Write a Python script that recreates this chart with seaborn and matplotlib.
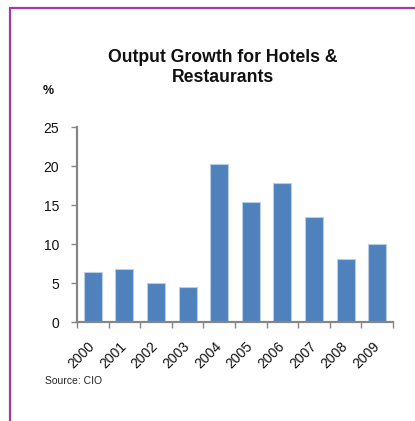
import matplotlib
matplotlib.use("Agg")
import matplotlib.pyplot as plt
from matplotlib.lines import Line2D
from matplotlib.ticker import FixedLocator
from matplotlib.transforms import ScaledTranslation
import seaborn as sns
import pandas as pd

years = ["2000", "2001", "2002", "2003", "2004", "2005", "2006", "2007", "2008", "2009"]
growth = [6.5, 6.8, 5.0, 4.5, 20.3, 15.4, 17.8, 13.5, 8.1, 10.0]
y_ticks = [0, 5, 10, 15, 20, 25]

df = pd.DataFrame({"year": years, "growth": growth})

sns.set_theme(style="white")
plt.rcParams["font.family"] = ["Liberation Sans", "DejaVu Sans"]

fig = plt.figure(figsize=(4.15, 4.21), dpi=100)
ax = fig.add_axes([77 / 415, 1 - 322.3 / 421, (393 - 77) / 415, (322.3 - 127.3) / 421])

sns.barplot(data=df, x="year", y="growth", color="#4F81BD", saturation=1,
            width=0.57, edgecolor="#B9CDE5", linewidth=0.8, ax=ax)

ax.set_xlim(-0.5, len(years) - 0.5)
ax.set_ylim(0, 25)
ax.set_yticks(y_ticks)
ax.set_xlabel("")
ax.set_ylabel("")

axis_grey = "#868686"
for side in ("top", "right"):
    ax.spines[side].set_visible(False)
for side in ("left", "bottom"):
    ax.spines[side].set_color(axis_grey)
    ax.spines[side].set_linewidth(1.6)

ax.tick_params(axis="y", which="major", direction="out", length=4, width=1,
               color=axis_grey, labelsize=10, pad=9, left=True,
               labelcolor="#111111")
ax.tick_params(axis="x", which="major", length=0, labelsize=10, pad=12,
               labelcolor="#111111")
ax.xaxis.set_minor_locator(FixedLocator([i - 0.5 for i in range(len(years) + 1)]))
ax.tick_params(axis="x", which="minor", direction="out", length=4, width=1,
               color=axis_grey, bottom=True)

shift = ScaledTranslation(-5 / 100, 0, fig.dpi_scale_trans)
for lbl in ax.get_xticklabels():
    lbl.set_rotation(45)
    lbl.set_ha("right")
    lbl.set_va("top")
    lbl.set_rotation_mode("anchor")
    lbl.set_transform(lbl.get_transform() + shift)

fig.text(223 / 415, 1 - 67.5 / 421, "Output Growth for Hotels &\nRestaurants",
         ha="center", va="center", fontsize=12.7, fontweight="bold",
         linespacing=1.3, color="#111111")
fig.text(43 / 415, 1 - 91 / 421, "%", ha="left", va="center",
         fontsize=9, fontweight="bold", color="#111111")
fig.text(45 / 415, 1 - 381 / 421, "Source: CIO", ha="left", va="center",
         fontsize=7.5, color="#222222")

# frame lines along the top and left edges of the figure
border = "#A8399D"
fig.add_artist(Line2D([10 / 415, 1], [1 - 8.3 / 421, 1 - 8.3 / 421],
                      transform=fig.transFigure, color=border, linewidth=1.6))
fig.add_artist(Line2D([10 / 415, 10 / 415], [0, 1 - 8.3 / 421],
                      transform=fig.transFigure, color=border, linewidth=1.6))

fig.savefig("out.png", dpi=100)
